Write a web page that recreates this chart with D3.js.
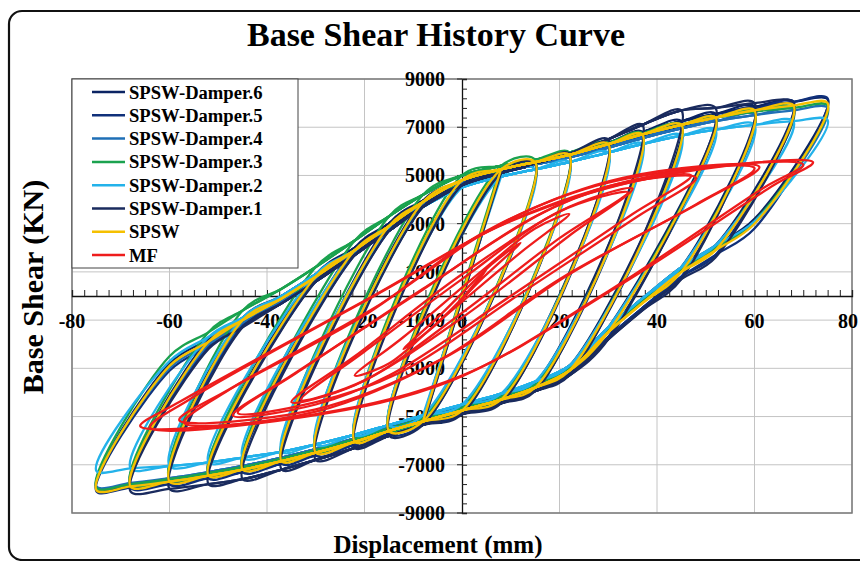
<!DOCTYPE html>
<html>
<head>
<meta charset="utf-8">
<script src="https://cdn.jsdelivr.net/npm/d3@7"></script>
<style>
  body { margin: 0; background: #fff; }
  text { font-family: "Liberation Serif", "Times New Roman", serif; font-weight: bold; }
</style>
</head>
<body>
<svg width="860" height="561"></svg>
<script>
// displacement grid (mm) shared by the SPSW family loops
const xs = [-75, -68, -60, -52, -45, -37, -30, -22, -15, -8, 0, 8, 15, 22, 30, 37, 45, 52, 60, 68, 75];
// cycle amplitudes (mm)
const ampsFull = [8, 15, 22, 30, 37, 45, 52, 60, 68, 75];
const ampsD1 = [8, 15, 22, 30, 37, 45, 52, 60, 68];

// loading (up) and unloading (down) branch forces at each grid point, kN
const d6Up   = [-6300, -4600, -2800, -1800, -900, 0, 900, 2000, 3000, 3950, 4750, 5200, 5500, 5800, 6350, 6800, 7250, 7550, 7850, 8050, 8150];
const d6Down = [-8000, -7850, -7650, -7400, -7150, -6800, -6400, -5950, -5500, -5100, -4700, -4200, -3600, -2900, -1300, -100, 1200, 2100, 3200, 4900, 6500];
const d5Up   = [-6500, -4900, -3100, -2100, -1200, -300, 600, 1700, 2700, 3700, 4600, 5100, 5450, 5800, 6250, 6650, 7050, 7400, 7750, 8050, 8200];
const d5Down = [-8100, -7950, -7800, -7550, -7300, -6950, -6600, -6150, -5700, -5300, -4850, -4400, -3900, -3200, -1700, -500, 800, 1700, 2800, 4500, 6300];
const d4Up   = [-6300, -4700, -3000, -2000, -1100, -200, 700, 1800, 2800, 3800, 4700, 5150, 5450, 5750, 6150, 6550, 6950, 7250, 7500, 7700, 7800];
const d4Down = [-7900, -7750, -7550, -7300, -7050, -6700, -6350, -5900, -5450, -5050, -4600, -4150, -3650, -3000, -1400, -200, 1100, 2000, 3000, 4600, 6200];
const d3Up   = [-6000, -4300, -2500, -1500, -600, 300, 1200, 2300, 3300, 4200, 5000, 5400, 5650, 5950, 6350, 6750, 7100, 7400, 7650, 7800, 7900];
const d3Down = [-7950, -7800, -7600, -7350, -7100, -6750, -6400, -5950, -5500, -5100, -4650, -4200, -3700, -3000, -1400, -200, 1100, 2000, 3100, 4700, 6300];
const d2Up   = [-5800, -4300, -2700, -1700, -900, 0, 900, 1900, 2800, 3700, 4500, 4950, 5250, 5550, 5950, 6300, 6650, 6900, 7100, 7250, 7300];
const d2Down = [-7250, -7150, -7050, -6900, -6700, -6450, -6150, -5750, -5350, -4950, -4500, -4050, -3550, -2900, -1300, -100, 1200, 2100, 3100, 4500, 5800];
const d1Up   = [-6600, -5000, -3200, -2200, -1300, -300, 600, 1700, 2700, 3700, 4600, 5100, 5500, 5900, 6500, 7100, 7700, 7800, 8000, 8000, 8000];
const d1Down = [-8150, -8100, -8000, -7800, -7600, -7200, -6800, -6300, -5800, -5350, -4900, -4450, -3950, -3300, -1800, -600, 700, 1600, 2700, 4300, 6000];
const spswUp   = [-6400, -4700, -2900, -1900, -1000, -100, 800, 1900, 2900, 3900, 4800, 5250, 5550, 5850, 6300, 6700, 7100, 7400, 7700, 7900, 8000];
const spswDown = [-8050, -7900, -7700, -7450, -7200, -6850, -6500, -6050, -5600, -5200, -4750, -4300, -3800, -3100, -1500, -300, 1000, 1900, 3000, 4700, 6400];

// moment frame loops, [disp, force] vertices of each cycle
const mfCycles = [
  [[-5, -1100], [0, -100], [5, 1100], [2, 300]],
  [[-12, -2200], [-4, -700], [6, 1300], [12, 2200], [4, 700], [-6, -1300]],
  [[-22, -3300], [-12, -1700], [5, 1200], [15, 2800], [22, 3400], [12, 1800], [-5, -1100], [-15, -2800]],
  [[-33, -4300], [-20, -2300], [0, 700], [20, 3500], [34, 4300], [20, 2400], [0, -700], [-20, -3500]],
  [[-35, -4400], [-22, -2500], [0, 900], [22, 3700], [35, 4450], [22, 2500], [0, -900], [-22, -3700]],
  [[-47, -4950], [-35, -3300], [-10, 0], [15, 3300], [30, 4500], [47, 5000], [35, 3400], [10, 0], [-15, -3300], [-30, -4500]],
  [[-46, -4850], [-34, -3200], [-8, 300], [17, 3500], [32, 4650], [48, 4900], [36, 3300], [12, 100], [-13, -3200], [-30, -4400]],
  [[-58, -5150], [-48, -3900], [-20, -800], [5, 2700], [30, 4700], [60, 5300], [48, 3800], [20, 700], [-5, -2700], [-30, -4700]],
  [[-57, -5250], [-47, -3800], [-18, -500], [8, 3000], [33, 4900], [61, 5350], [50, 4000], [22, 900], [-3, -2500], [-30, -4800]],
  [[-66, -5400], [-58, -4400], [-20, -200], [10, 3100], [40, 4950], [72, 5550], [64, 4600], [32, 400], [0, -3300], [-30, -4900]],
  [[-64, -5450], [-56, -4300], [-18, 0], [12, 3300], [42, 5100], [70, 5450], [62, 4500], [30, 200], [-2, -3500], [-32, -5000]]
];

const seriesNames = ["SPSW-Damper.6", "SPSW-Damper.5", "SPSW-Damper.4", "SPSW-Damper.3", "SPSW-Damper.2", "SPSW-Damper.1", "SPSW", "MF"];
const seriesColors = ["#0b2463", "#10307a", "#1f6fb6", "#1ba24f", "#23b2ea", "#1a2b5e", "#f5c000", "#ee1c1c"];

const xTicks = [-80, -60, -40, -20, 0, 20, 40, 60, 80];
const yTicks = [-9000, -7000, -5000, -3000, -1000, 1000, 3000, 5000, 7000, 9000];

let svg = d3.select("svg"),
	width = +svg.attr("width"),
	height = +svg.attr("height");

const plot = { left: 72, right: 852, top: 79, bottom: 513 };

let x = d3.scaleLinear().domain([-80, 80]).range([plot.left, plot.right]);
let y = d3.scaleLinear().domain([-9000, 9000]).range([plot.bottom, plot.top]);

// outer frame
svg.append("rect")
	.attr("x", 9).attr("y", 11)
	.attr("width", 880).attr("height", 549)
	.attr("rx", 13)
	.attr("fill", "none")
	.attr("stroke", "#111")
	.attr("stroke-width", 2.2);

// gridlines
let grid = svg.append("g");
grid.selectAll("line.v")
	.data(xTicks.filter(d => d !== 0))
	.enter().append("line")
	.attr("x1", d => x(d)).attr("x2", d => x(d))
	.attr("y1", plot.top).attr("y2", plot.bottom)
	.attr("stroke", "#c4c4c4").attr("stroke-width", 1);
grid.selectAll("line.h")
	.data(yTicks)
	.enter().append("line")
	.attr("x1", plot.left).attr("x2", plot.right)
	.attr("y1", d => y(d)).attr("y2", d => y(d))
	.attr("stroke", "#c4c4c4").attr("stroke-width", 1);

svg.append("rect")
	.attr("x", plot.left).attr("y", plot.top)
	.attr("width", plot.right - plot.left).attr("height", plot.bottom - plot.top)
	.attr("fill", "none")
	.attr("stroke", "#7a7a7a")
	.attr("stroke-width", 1.5);

// tick labels sit under the curves, as in the original
svg.append("g").selectAll("text")
	.data(xTicks)
	.enter().append("text")
	.attr("x", d => d === 80 ? width - 2 : x(d))
	.attr("y", y(0) + 32)
	.attr("text-anchor", d => d === 80 ? "end" : "middle")
	.style("font-size", "20px")
	.text(d => d);

svg.append("g").selectAll("text")
	.data(yTicks)
	.enter().append("text")
	.attr("x", x(0) - 17)
	.attr("y", d => y(d) + 7)
	.attr("text-anchor", "end")
	.style("font-size", "20px")
	.text(d => d);

// axes through the origin
let xAxis = d3.axisTop(x)
	.tickValues(d3.range(-80, 80.01, 2.5))
	.tickSize(6)
	.tickFormat("");
svg.append("g")
	.attr("transform", "translate(0," + y(0) + ")")
	.call(xAxis)
	.call(g => g.select(".domain").attr("stroke", "#111").attr("stroke-width", 1.3))
	.call(g => g.selectAll(".tick line").attr("stroke", "#222"));

let yAxis = d3.axisRight(y)
	.tickValues(d3.range(-9000, 9001, 400))
	.tickSize(5)
	.tickFormat("");
svg.append("g")
	.attr("transform", "translate(" + x(0) + ",0)")
	.call(yAxis)
	.call(g => g.select(".domain").attr("stroke", "#111").attr("stroke-width", 1.3))
	.call(g => g.selectAll(".tick line").attr("stroke", "#222"));

svg.append("g").selectAll("line")
	.data(yTicks)
	.enter().append("line")
	.attr("x1", x(0) - 5).attr("x2", x(0))
	.attr("y1", d => y(d)).attr("y2", d => y(d))
	.attr("stroke", "#222");

// hysteresis loops
function loopPoints(up, down, D) {
	const iN = xs.indexOf(-D), iP = xs.indexOf(D);
	const s = D >= 60 ? 2 : 3;
	const pts = [[xs[iN], down[iN]]];
	for (let i = Math.min(iN + s, iP); i <= iP; i++) pts.push([xs[i], up[i]]);
	for (let i = iP - s; i > iN; i--) pts.push([xs[i], down[i]]);
	return pts;
}

const family = [
	{ up: d6Up, down: d6Down, amps: ampsFull },
	{ up: d5Up, down: d5Down, amps: ampsFull },
	{ up: d4Up, down: d4Down, amps: ampsFull },
	{ up: d3Up, down: d3Down, amps: ampsFull },
	{ up: d2Up, down: d2Down, amps: ampsFull },
	{ up: d1Up, down: d1Down, amps: ampsD1 },
	{ up: spswUp, down: spswDown, amps: ampsFull }
];

let closedLine = d3.line()
	.x(d => x(d[0]))
	.y(d => y(d[1]))
	.curve(d3.curveCatmullRomClosed.alpha(0.5));
let openLine = d3.line()
	.x(d => x(d[0]))
	.y(d => y(d[1]));

function drawLoops(loops, color) {
	svg.append("g")
		.selectAll("path")
		.data(loops)
		.enter().append("path")
		.attr("d", d => d.length < 3 ? openLine(d) : closedLine(d))
		.attr("fill", "none")
		.attr("stroke", color)
		.attr("stroke-width", 2.3)
		.attr("stroke-linejoin", "round");
}

family.forEach((s, i) => {
	drawLoops(s.amps.map(D => loopPoints(s.up, s.down, D)), seriesColors[i]);
});
drawLoops(mfCycles, seriesColors[7]);

// legend
let legend = svg.append("g");
legend.append("rect")
	.attr("x", plot.left).attr("y", plot.top)
	.attr("width", 226).attr("height", 189)
	.attr("fill", "#fff")
	.attr("stroke", "#444")
	.attr("stroke-width", 1);

let item = legend.selectAll("g")
	.data(seriesNames)
	.enter().append("g")
	.attr("transform", (d, i) => "translate(0," + (92 + i * 23.3) + ")");
item.append("line")
	.attr("x1", 92).attr("x2", 125)
	.attr("stroke", (d, i) => seriesColors[i])
	.attr("stroke-width", 2.5);
item.append("text")
	.attr("x", 129)
	.attr("y", 6.5)
	.style("font-size", "18.6px")
	.text(d => d);

// titles
svg.append("text")
	.attr("x", 436).attr("y", 46)
	.attr("text-anchor", "middle")
	.style("font-size", "34px")
	.text("Base Shear History Curve");

svg.append("text")
	.attr("x", 438).attr("y", 553)
	.attr("text-anchor", "middle")
	.style("font-size", "25px")
	.text("Displacement (mm)");

svg.append("text")
	.attr("transform", "translate(43,287) rotate(-90)")
	.attr("text-anchor", "middle")
	.style("font-size", "30px")
	.text("Base Shear (KN)");
</script>
</body>
</html>
